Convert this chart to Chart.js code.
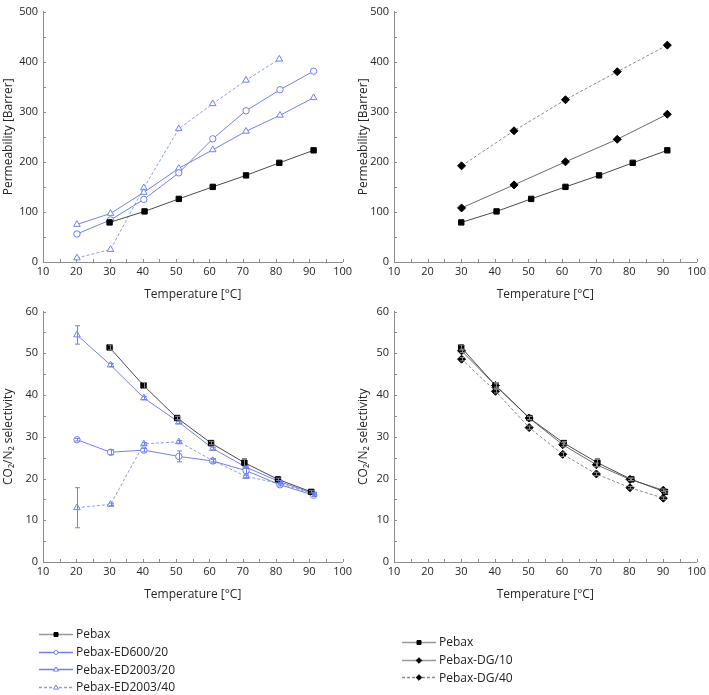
<!DOCTYPE html>
<html>
<head>
<meta charset="utf-8">
<script src="https://cdn.jsdelivr.net/npm/chart.js@4.4.0/dist/chart.umd.min.js"></script>
<style>
  body { margin: 0; background: #fff; width: 709px; height: 695px; position: relative; overflow: hidden; font-family: "Open Sans", sans-serif; }
  .panel { position: absolute; }
  .legend { position: absolute; font-size: 12px; color: #222; }
  .legend .row { height: 17.7px; display: flex; align-items: center; }
  .legend canvas { margin-right: 3px; }
</style>
</head>
<body>
<div class="panel" style="left:0;top:0;width:355px;height:302px"><canvas id="permED"></canvas></div>
<div class="panel" style="left:355px;top:0;width:354px;height:302px"><canvas id="permDG"></canvas></div>
<div class="panel" style="left:0;top:300px;width:355px;height:302px"><canvas id="selED"></canvas></div>
<div class="panel" style="left:355px;top:300px;width:354px;height:302px"><canvas id="selDG"></canvas></div>
<div class="legend" id="legendED" style="left:39px;top:625px"></div>
<div class="legend" id="legendDG" style="left:402px;top:633px"></div>

<script>
// permeability (top row)
const tempPebax = [30, 40.5, 50.8, 61, 71, 81, 91.3];
const permPebax = [79, 101, 126, 150, 173, 198, 223];
const tempED = [20.2, 30.3, 40.3, 50.8, 61, 71, 81.2, 91.3];
const permED600 = [56, 84, 125, 178, 246, 302, 344, 381];
const permED2003_20 = [75, 97, 139, 187, 224, 261, 293, 328];
const tempED40 = [20.2, 30.3, 40.3, 50.8, 61, 71, 81];
const permED2003_40 = [8, 25, 148, 266, 316, 363, 405];
const tempDG = [30.1, 45.7, 61, 76.4, 91.3];
const permDG10 = [108, 154, 200, 245, 295];
const permDG40 = [192, 262, 324, 380, 433];

// CO2/N2 selectivity (bottom row)
const tempSelPebax = [30, 40.2, 50.3, 60.5, 70.5, 80.6, 90.6];
const selPebax = [51.4, 42.3, 34.5, 28.5, 23.8, 19.8, 16.8];
const errPebax = [0.6, 0.7, 0.4, 0.4, 1.0, 0.3, 0.3];
const tempSelED = [20.2, 30.3, 40.3, 50.8, 61, 71, 81.2, 91.3];
const selED600 = [29.3, 26.3, 26.8, 25.3, 24.2, 21.9, 18.5, 16.0];
const errED600 = [0.3, 0.6, 0.4, 1.3, 0.5, 0.8, 0.3, 0.3];
const selED2003_20 = [54.4, 47.2, 39.3, 33.5, 27.2, 22.7, 19.2, 16.4];
const errED2003_20 = [2.2, 0.4, 0.4, 0.3, 0.3, 0.3, 0.3, 0.3];
const selED2003_40 = [13.0, 13.8, 28.3, 28.8, 24.3, 20.5, 18.8, 16.3];
const errED2003_40 = [4.8, 0.3, 0.3, 0.3, 0.3, 0.3, 0.3, 0.3];
const tempSelDG = [30.1, 40.2, 50.2, 60.2, 70.2, 80.2, 90.1];
const selDG10 = [50.6, 42.3, 34.5, 28.1, 23.3, 19.8, 17.2];
const selDG40 = [48.6, 40.9, 32.2, 25.8, 21.1, 17.8, 15.3];
const errDG = [0.4, 0.4, 0.4, 0.5, 0.4, 0.3, 0.3];

const BLUE = '#6f80f0';
const BLUE_LIGHT = '#8d9bf4';

const styles = {
  pebax:  { borderColor: '#4a4a4a', pointStyle: 'rect', pointRadius: 3.8, pointBackgroundColor: '#000', pointBorderColor: '#000' },
  ed600:  { borderColor: BLUE, pointStyle: 'circle', pointRadius: 3.2, pointBackgroundColor: '#fff', pointBorderColor: BLUE },
  ed2003_20: { borderColor: BLUE, pointStyle: 'triangle', pointRadius: 3.8, pointBackgroundColor: '#fff', pointBorderColor: BLUE },
  ed2003_40: { borderColor: BLUE_LIGHT, borderDash: [3, 2], pointStyle: 'triangle', pointRadius: 3.8, pointBackgroundColor: '#fff', pointBorderColor: BLUE },
  dg10:   { borderColor: '#6a6a6a', pointStyle: 'rectRot', pointRadius: 4, pointBackgroundColor: '#000', pointBorderColor: '#000' },
  dg40:   { borderColor: '#8a8a8a', borderDash: [3, 2], pointStyle: 'rectRot', pointRadius: 4, pointBackgroundColor: '#000', pointBorderColor: '#000' }
};

function series(label, xs, ys, style, errs) {
  return Object.assign({
    label: label,
    data: xs.map((x, i) => ({ x: x, y: ys[i] })),
    errors: errs,
    borderWidth: 1,
    pointBorderWidth: 1,
    tension: 0
  }, style);
}

// tick marks pointing into the plot, major + minor
const innerTicks = {
  id: 'innerTicks',
  afterDraw(chart, args, opts) {
    const ctx = chart.ctx, xs = chart.scales.x, ys = chart.scales.y;
    ctx.save();
    ctx.strokeStyle = '#8c8c8c';
    ctx.lineWidth = 1;
    ctx.beginPath();
    for (let v = xs.min; v <= xs.max + 1e-9; v += opts.xStep) {
      const px = Math.round(xs.getPixelForValue(v)) + 0.5;
      ctx.moveTo(px, ys.bottom);
      ctx.lineTo(px, ys.bottom - 3);
    }
    for (let v = ys.min; v <= ys.max + 1e-9; v += opts.yStep) {
      const py = Math.round(ys.getPixelForValue(v)) + 0.5;
      ctx.moveTo(xs.left, py);
      ctx.lineTo(xs.left + 3, py);
    }
    ctx.stroke();
    ctx.restore();
  }
};

// vertical error bars from dataset.errors
const errorBars = {
  id: 'errorBars',
  afterDatasetsDraw(chart) {
    const ctx = chart.ctx, ys = chart.scales.y;
    chart.data.datasets.forEach((ds, di) => {
      if (!ds.errors) return;
      const meta = chart.getDatasetMeta(di);
      ctx.save();
      ctx.strokeStyle = ds.pointBorderColor === '#000' ? '#888' : ds.pointBorderColor;
      ctx.lineWidth = 1;
      meta.data.forEach((pt, i) => {
        const e = ds.errors[i];
        const v = ds.data[i].y;
        const top = ys.getPixelForValue(v + e), bot = ys.getPixelForValue(v - e);
        const x = Math.round(pt.x) + 0.5;
        ctx.beginPath();
        ctx.moveTo(x, top); ctx.lineTo(x, bot);
        ctx.moveTo(x - 2.5, top); ctx.lineTo(x + 2.5, top);
        ctx.moveTo(x - 2.5, bot); ctx.lineTo(x + 2.5, bot);
        ctx.stroke();
      });
      ctx.restore();
    });
  }
};

Chart.defaults.font.family = "'Open Sans', sans-serif";
Chart.defaults.font.size = 11;
Chart.defaults.color = '#262626';

function makeChart(id, datasets, opt) {
  return new Chart(document.getElementById(id), {
    type: 'line',
    data: { datasets: datasets },
    plugins: [innerTicks, errorBars],
    options: {
      responsive: true,
      maintainAspectRatio: false,
      animation: false,
      layout: { padding: { left: 0, right: opt.right, top: 5, bottom: 0 } },
      plugins: {
        legend: { display: false },
        tooltip: { enabled: false },
        innerTicks: { xStep: 5, yStep: opt.yMinor }
      },
      scales: {
        x: {
          type: 'linear', min: 10, max: 100,
          afterFit: s => { s.height = 40; },
          ticks: { stepSize: 10, padding: 3, font: { size: 11 } },
          grid: { display: false, drawTicks: false },
          border: { color: '#8c8c8c', width: 1 },
          title: { display: true, text: 'Temperature [°C]', font: { size: 12 }, padding: { top: 0, bottom: 0 } }
        },
        y: {
          min: 0, max: opt.yMax,
          afterFit: s => { s.width = opt.yWidth; },
          ticks: { stepSize: opt.yStep, padding: 5, font: { size: 11 } },
          grid: { display: false, drawTicks: false },
          border: { color: '#8c8c8c', width: 1 },
          title: { display: true, text: opt.yTitle, font: { size: 12 }, padding: { top: 1, bottom: 0 } }
        }
      }
    }
  });
}

makeChart('permED', [
  series('Pebax', tempPebax, permPebax, styles.pebax),
  series('Pebax-ED600/20', tempED, permED600, styles.ed600),
  series('Pebax-ED2003/20', tempED, permED2003_20, styles.ed2003_20),
  series('Pebax-ED2003/40', tempED40, permED2003_40, styles.ed2003_40)
], { yMax: 500, yStep: 100, yMinor: 50, yTitle: 'Permeability [Barrer]', yWidth: 43, right: 7 });

makeChart('permDG', [
  series('Pebax', tempPebax, permPebax, styles.pebax),
  series('Pebax-DG/10', tempDG, permDG10, styles.dg10),
  series('Pebax-DG/40', tempDG, permDG40, styles.dg40)
], { yMax: 500, yStep: 100, yMinor: 50, yTitle: 'Permeability [Barrer]', yWidth: 39, right: 10 });

makeChart('selED', [
  series('Pebax', tempSelPebax, selPebax, styles.pebax, errPebax),
  series('Pebax-ED600/20', tempSelED, selED600, styles.ed600, errED600),
  series('Pebax-ED2003/20', tempSelED, selED2003_20, styles.ed2003_20, errED2003_20),
  series('Pebax-ED2003/40', tempSelED, selED2003_40, styles.ed2003_40, errED2003_40)
], { yMax: 60, yStep: 10, yMinor: 5, yTitle: 'CO₂/N₂ selectivity', yWidth: 43, right: 7 });

makeChart('selDG', [
  series('Pebax', tempSelPebax, selPebax, styles.pebax, errPebax),
  series('Pebax-DG/10', tempSelDG, selDG10, styles.dg10, errDG),
  series('Pebax-DG/40', tempSelDG, selDG40, styles.dg40, errDG)
], { yMax: 60, yStep: 10, yMinor: 5, yTitle: 'CO₂/N₂ selectivity', yWidth: 39, right: 10 });

// legends: small line + marker swatch, then label
function swatch(style) {
  const c = document.createElement('canvas');
  c.width = 34; c.height = 12;
  const ctx = c.getContext('2d');
  ctx.strokeStyle = style.borderColor;
  ctx.lineWidth = 1.5;
  ctx.setLineDash(style.borderDash || []);
  ctx.beginPath(); ctx.moveTo(0, 6.5); ctx.lineTo(34, 6.5); ctx.stroke();
  ctx.setLineDash([]);
  ctx.fillStyle = style.pointBackgroundColor;
  ctx.strokeStyle = style.pointBorderColor;
  ctx.lineWidth = 1;
  const x = 17, y = 6.5, r = 2;
  ctx.beginPath();
  if (style.pointStyle === 'rect') ctx.rect(x - r, y - r, 2 * r, 2 * r);
  else if (style.pointStyle === 'circle') ctx.arc(x, y, r, 0, Math.PI * 2);
  else if (style.pointStyle === 'triangle') { ctx.moveTo(x, y - r - 0.5); ctx.lineTo(x + r + 0.5, y + r * 0.8); ctx.lineTo(x - r - 0.5, y + r * 0.8); ctx.closePath(); }
  else { ctx.moveTo(x, y - 2.8); ctx.lineTo(x + 2.8, y); ctx.lineTo(x, y + 2.8); ctx.lineTo(x - 2.8, y); ctx.closePath(); }
  ctx.fill(); ctx.stroke();
  return c;
}

function buildLegend(id, items) {
  const box = document.getElementById(id);
  items.forEach(([label, style]) => {
    const row = document.createElement('div');
    row.className = 'row';
    row.appendChild(swatch(style));
    const span = document.createElement('span');
    span.textContent = label;
    row.appendChild(span);
    box.appendChild(row);
  });
}

buildLegend('legendED', [
  ['Pebax', Object.assign({}, styles.pebax, { borderColor: '#999' })],
  ['Pebax-ED600/20', styles.ed600],
  ['Pebax-ED2003/20', styles.ed2003_20],
  ['Pebax-ED2003/40', styles.ed2003_40]
]);
buildLegend('legendDG', [
  ['Pebax', Object.assign({}, styles.pebax, { borderColor: '#999' })],
  ['Pebax-DG/10', Object.assign({}, styles.dg10, { borderColor: '#999' })],
  ['Pebax-DG/40', styles.dg40]
]);
</script>
</body>
</html>
